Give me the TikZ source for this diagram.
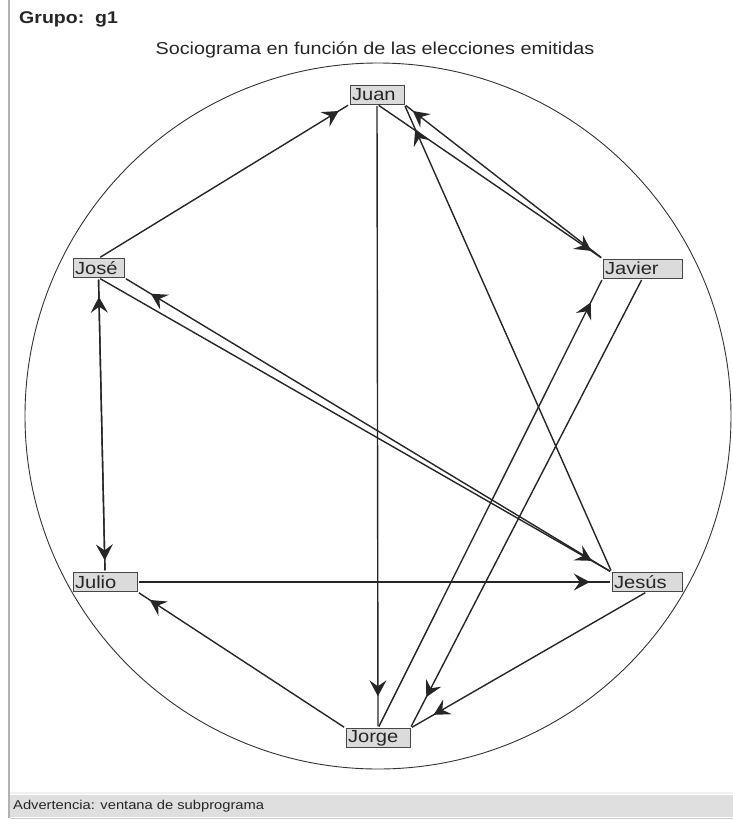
\documentclass[tikz,border=0pt]{standalone}
\usepackage{fontspec}
\setmainfont[FakeStretch=1.15]{Liberation Sans}
\usetikzlibrary{arrows.meta,decorations.markings}
\tikzset{
  nbox/.style={draw=gray!55!black, fill=gray!28, text=black!85, rectangle,
    inner xsep=2pt, inner ysep=0pt, minimum height=19pt, align=left,
    text width=#1, font=\fontsize{17.5}{17.5}\selectfont},
  edge/.style={draw=black!85, line width=1.4pt, shorten <=2pt, shorten >=2pt},
  tipat/.style={postaction={decorate, decoration={markings,
    mark=at position -#1 with {\arrow{Stealth[length=16pt,width=17pt,inset=6pt]}}}}},
}
\begin{document}
\begin{tikzpicture}[x=1pt,y=-1pt]
\useasboundingbox (0,0) rectangle (733,831);
% window frame
\draw[gray!60, line width=1.5pt] (9,0) -- (9,818);
\fill[gray!25] (10,795) rectangle (733,817);
\draw[gray!12, line width=1.5pt] (10,793) -- (733,793);
\draw[gray!40, line width=1pt] (10,818.5) -- (733,818.5);
\node[anchor=west, inner sep=0pt, font=\fontsize{12.8}{12.8}\selectfont, text=black!85] (status) at (13,806) {Advertencia: ventana de subprograma};
% headings
\node[anchor=west, inner sep=0pt, font=\bfseries\fontsize{17}{17}\selectfont, text=black!85] (grupo) at (19,19) {Grupo:\ \ g1};
\node[inner sep=0pt, font=\fontsize{17.2}{17.2}\selectfont, text=black!85] (title) at (375,50) {Sociograma en función de las elecciones emitidas};
% circle
\draw[black!80, line width=0.9pt] (378,416) circle[radius=353];
% nodes
\node[nbox=50pt] (juan) at (377,94.5) {Juan};
\node[nbox=47pt] (jose) at (98.5,268) {José};
\node[nbox=75pt] (javier) at (642.5,268.5) {Javier};
\node[nbox=60pt] (julio) at (105,582) {Julio};
\node[nbox=66pt] (jesus) at (647,582) {Jesús};
\node[nbox=60pt] (jorge) at (378,738) {Jorge};
% connectors
\draw[edge, tipat=13pt] (jose.north) -- (juan.south west);
\draw[edge, tipat=32pt] (juan.south) -- (jorge.north);
\draw[edge, tipat=14pt] (juan.south) -- (javier.north west);
\draw[edge, tipat=11pt] (javier.north west) -- (juan.south east);
\draw[edge, tipat=27pt] (jesus.north west) -- (juan.south east);
\draw[edge, tipat=23pt] (jose.south) -- (jesus.north west);
\draw[edge, tipat=31pt] (jesus.north west) -- (jose.south east);
\draw[edge, tipat=12pt] (jose.south) -- (julio.north);
\draw[edge, tipat=19pt] (julio.north) -- (jose.south);
\draw[edge, tipat=22pt] (julio.east) -- (jesus.west);
\draw[edge, tipat=15pt] (jorge.north west) -- (julio.south east);
\draw[edge, tipat=27pt] (jorge.north) -- (javier.south west);
\draw[edge, tipat=35pt] (javier.south) -- (jorge.north east);
\draw[edge, tipat=27pt] (jesus.south) -- (jorge.north east);
\end{tikzpicture}
\end{document}
